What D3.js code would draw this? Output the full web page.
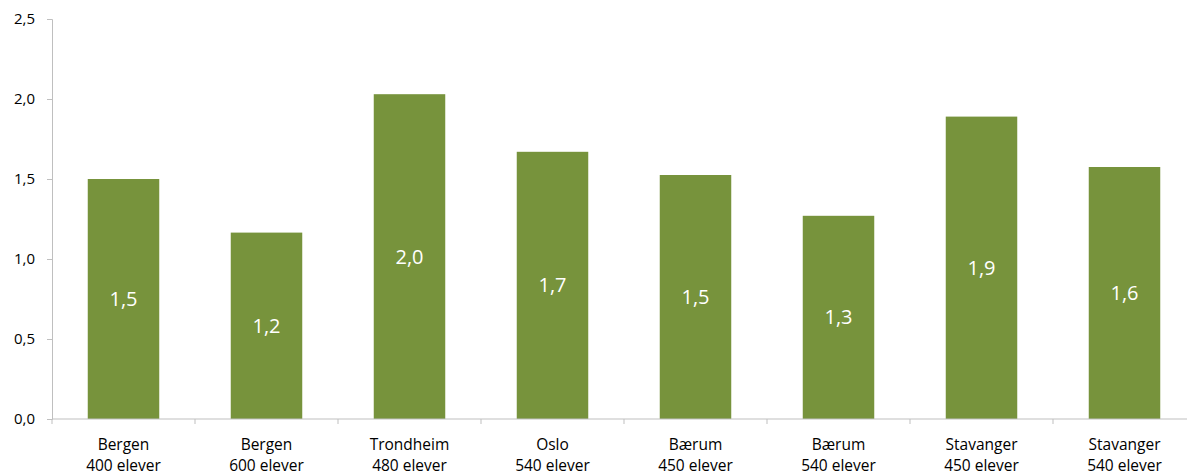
<!DOCTYPE html>
<html><head><meta charset="utf-8">
<script src="https://cdn.jsdelivr.net/npm/d3@7"></script>
<style>body{margin:0;background:#fff}svg{display:block}text{font-family:"Open Sans","Noto Sans",sans-serif}</style>
</head><body><svg id="c" width="1187" height="474"></svg>
<script>
const cities = ["Bergen","Bergen","Trondheim","Oslo","Bærum","Bærum","Stavanger","Stavanger"];
const pupils = ["400 elever","600 elever","480 elever","540 elever","450 elever","540 elever","450 elever","540 elever"];
const values = [1.50, 1.165, 2.03, 1.67, 1.525, 1.27, 1.89, 1.575];
const yTicks = [0, 0.5, 1.0, 1.5, 2.0, 2.5];

(function(){
const svg = d3.select("#c");
const mLeft = 52, mRight = 1196, mTop = 19, mBottom = 419;
const idx = d3.range(values.length);
const x = d3.scaleBand().domain(idx).range([mLeft, mRight]).paddingInner(0.5).paddingOuter(0.25);
const y = d3.scaleLinear().domain([0, 2.5]).range([mBottom, mTop]);
const fmt = v => d3.format(".1f")(v).replace(".", ",");

svg.selectAll("rect.bar").data(values).join("rect")
  .attr("x", (d,i) => x(i)).attr("width", x.bandwidth())
  .attr("y", d => y(d)).attr("height", d => mBottom - y(d))
  .attr("fill", "#77933c");

svg.selectAll("text.val").data(values).join("text")
  .attr("x", (d,i) => x(i) + x.bandwidth()/2)
  .attr("y", d => (y(d) + mBottom)/2)
  .attr("dy", "0.35em").attr("text-anchor", "middle")
  .attr("fill", "#fff").style("font-size", "20px")
  .text(d => fmt(d));

const yAxis = d3.axisLeft(y).tickValues(yTicks).tickSize(5).tickPadding(12).tickFormat(fmt);
const gy = svg.append("g").attr("transform", `translate(${mLeft},0)`).call(yAxis);
gy.select(".domain").attr("stroke", "#bfbfbf");
gy.selectAll(".tick line").attr("stroke", "#bfbfbf");
gy.selectAll(".tick text").attr("fill", "#000").style("font-size", "15px").style("font-family", "'Open Sans','Noto Sans',sans-serif");

const gx = svg.append("g").attr("transform", `translate(0,${mBottom})`);
gx.append("line").attr("x1", mLeft).attr("x2", mRight).attr("stroke", "#bfbfbf");
const bounds = d3.range(values.length + 1).map(i => mLeft + i * x.step());
gx.selectAll("line.t").data(bounds).join("line")
  .attr("x1", d => d).attr("x2", d => d).attr("y1", 0).attr("y2", 5).attr("stroke", "#bfbfbf");
const lbl = gx.selectAll("text.cat").data(idx).join("text")
  .attr("text-anchor", "middle").style("font-size", "15.5px").attr("fill", "#000");
lbl.append("tspan").attr("x", i => x(i) + x.bandwidth()/2).attr("y", 31).text(i => cities[i]);
lbl.append("tspan").attr("x", i => x(i) + x.bandwidth()/2).attr("y", 52).text(i => pupils[i]);
})();
</script></body></html>
